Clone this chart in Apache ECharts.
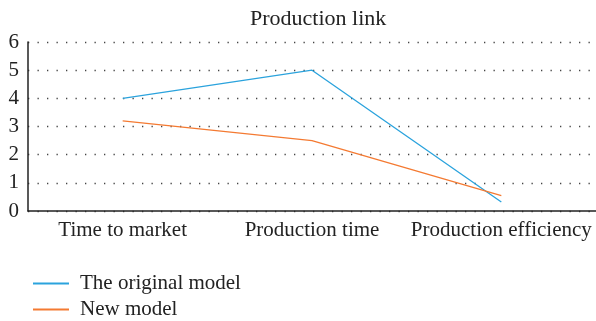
<!DOCTYPE html>
<html>
<head>
<meta charset="utf-8">
<script src="https://cdn.jsdelivr.net/npm/echarts@6/dist/echarts.min.js"></script>
<style>
  html, body { margin: 0; padding: 0; background: #fff; }
  #main { width: 596px; height: 321px; }
</style>
</head>
<body>
<div id="main"></div>
<script>
const categories = ['Time to market', 'Production time', 'Production efficiency'];
const originalModel = [4, 5, 0.32];
const newModel = [3.2, 2.5, 0.55];
const yTicks = [0, 1, 2, 3, 4, 5, 6];

const serif = '"Liberation Serif", "DejaVu Serif", serif';
const legendText = { fontFamily: serif, fontSize: 21, color: '#222', padding: [0, 0, 0, 6] };
let chartDom = document.getElementById('main');
let myChart = echarts.init(chartDom);
let option = {
  animation: false,
  // title sits over the middle of the plot area, not the whole canvas
  title: {
    text: 'Production link',
    left: 245,
    top: 3,
    textStyle: { fontFamily: serif, fontSize: 22, fontWeight: 'normal', color: '#222' }
  },
  // one legend per row so they stack like the original
  legend: [
    {
      left: 28,
      top: 268,
      itemWidth: 36,
      itemHeight: 2,
      icon: 'rect',
      textStyle: legendText,
      data: ['The original model']
    },
    {
      left: 28,
      top: 294,
      itemWidth: 36,
      itemHeight: 2,
      icon: 'rect',
      textStyle: legendText,
      data: ['New model']
    }
  ],
  grid: {
    left: 28,
    right: 0,
    top: 42,
    bottom: 110
  },
  xAxis: {
    type: 'category',
    boundaryGap: true,
    data: categories,
    axisLine: { lineStyle: { color: '#222', width: 1.5 } },
    axisTick: { show: false },
    axisLabel: { fontFamily: serif, fontSize: 21, color: '#222', margin: 9, interval: 0, hideOverlap: false }
  },
  yAxis: {
    type: 'value',
    min: yTicks[0],
    max: yTicks[yTicks.length - 1],
    interval: 1,
    axisLine: { show: true, lineStyle: { color: '#222', width: 1.5 } },
    axisTick: { show: false },
    axisLabel: { fontFamily: serif, fontSize: 21, color: '#222', margin: 9 },
    splitLine: { show: true, lineStyle: { color: '#444', type: [1.3, 8.2], width: 1.3 } }
  },
  series: [
    {
      name: 'The original model',
      type: 'line',
      data: originalModel,
      showSymbol: false,
      color: '#2ba3dd',
      lineStyle: { width: 1.3 }
    },
    {
      name: 'New model',
      type: 'line',
      data: newModel,
      showSymbol: false,
      color: '#f47a32',
      lineStyle: { width: 1.3 }
    }
  ]
};
option && myChart.setOption(option);
</script>
</body>
</html>
